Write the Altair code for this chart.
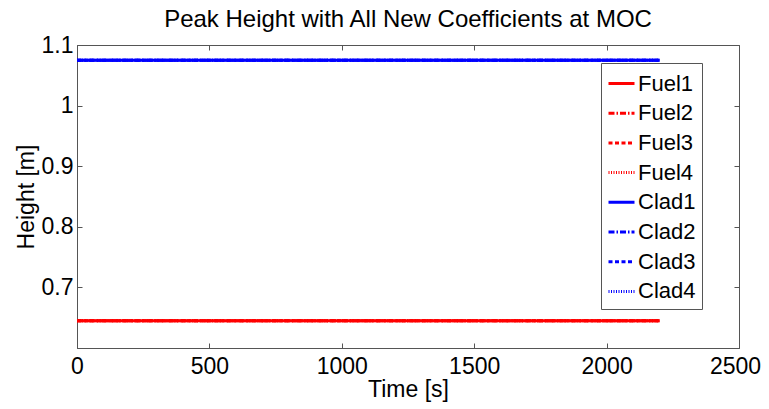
import altair as alt
import pandas as pd

# ---- data ----
time_s = [0, 2200]
series = ["Fuel1", "Fuel2", "Fuel3", "Fuel4", "Clad1", "Clad2", "Clad3", "Clad4"]
fuel1 = [0.645, 0.645]
fuel2 = [0.645, 0.645]
fuel3 = [0.645, 0.645]
fuel4 = [0.645, 0.645]
clad1 = [1.075, 1.075]
clad2 = [1.075, 1.075]
clad3 = [1.075, 1.075]
clad4 = [1.075, 1.075]
x_ticks = [0, 500, 1000, 1500, 2000, 2500]
y_ticks = [0.7, 0.8, 0.9, 1.0, 1.1]

colors = ["#ff0000"] * 4 + ["#0000ff"] * 4
dashes = [[1, 0], [6, 2, 1.5, 2], [4, 2.5], [1, 1.5]] * 2

values = [fuel1, fuel2, fuel3, fuel4, clad1, clad2, clad3, clad4]
rows = []
for i, (name, ys) in enumerate(zip(series, values)):
    for t, y in zip(time_s, ys):
        # draw later-listed series first so the solid lines end up on top
        rows.append({"Time": t, "Height": y, "Series": name, "order": i % 4})
df = pd.DataFrame(rows)

FONT = "Liberation Sans"
FS = 23
inward = alt.ExprRef(expr="-5")

xs = alt.Scale(domain=[0, 2500], nice=False, zero=False)
ys = alt.Scale(domain=[0.6, 1.1], nice=False, zero=False)

main = alt.Chart(df).mark_line(strokeWidth=3, clip=True).encode(
    x=alt.X("Time:Q", scale=xs,
            axis=alt.Axis(title="Time [s]", values=x_ticks, format="d", labelFlush=False,
                          labelOffset={"condition": {"test": "datum.value == 2500", "value": -4},
                                       "value": 0},
                          tickSize=inward, labelPadding=12, titlePadding=0)),
    y=alt.Y("Height:Q", scale=ys,
            axis=alt.Axis(title="Height [m]", values=y_ticks, format="~g", labelFlush=False,
                          tickSize=inward, labelPadding=9, titlePadding=3)),
    color=alt.Color("Series:N", scale=alt.Scale(domain=series, range=colors),
                    sort=series,
                    legend=alt.Legend(title=None, orient="none", legendX=524, legendY=18,
                                      symbolType="stroke", symbolSize=676,
                                      symbolStrokeWidth=3, labelFontSize=22,
                                      labelFont=FONT, labelColor="black",
                                      labelOffset=2, rowPadding=3.7, padding=6,
                                      strokeColor="#555", fillColor="white",
                                      cornerRadius=0)),
    strokeDash=alt.StrokeDash("Series:N", scale=alt.Scale(domain=series, range=dashes),
                              sort=series, legend=alt.Legend(title=None)),
    detail="Series:N",
    order=alt.Order("order:Q", sort="descending"),
)

frame = alt.Chart(df).mark_line(opacity=0).encode(
    x=alt.X("Time:Q", scale=xs,
            axis=alt.Axis(orient="top", title=None, labels=False, domain=False,
                          values=x_ticks, tickSize=inward)),
    y=alt.Y("Height:Q", scale=ys,
            axis=alt.Axis(orient="right", title=None, labels=False, domain=False,
                          values=y_ticks, tickSize=inward)),
)

chart = alt.layer(main, frame).resolve_axis(x="independent", y="independent").properties(
    width=662,
    height=303,
    background="white",
    autosize=alt.AutoSizeParams(type="none"),
    padding={"left": 69, "top": 37, "right": 22, "bottom": 58},
    title=alt.Title("Peak Height with All New Coefficients at MOC", fontSize=24,
                    font=FONT, fontWeight="normal", color="black", offset=12, dy=10),
).configure_view(
    stroke="#555", strokeWidth=1,
).configure_axis(
    grid=False, domainColor="#555", tickColor="#555",
    labelFont=FONT, labelFontSize=FS, labelColor="black",
    titleFont=FONT, titleFontSize=FS, titleColor="black", titleFontWeight="normal",
)

chart.save("out.html", embed_options={"renderer": "svg", "actions": False})
